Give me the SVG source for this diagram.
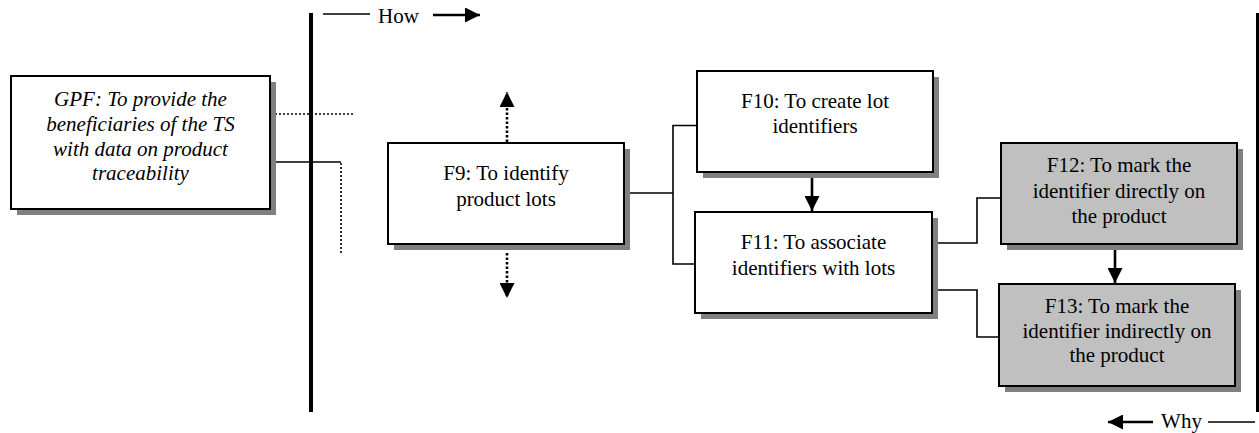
<svg xmlns="http://www.w3.org/2000/svg" width="1259" height="433" viewBox="0 0 1259 433">
<defs>
<style>
.t{font-family:"Liberation Serif","Times New Roman",serif;font-size:21px;fill:#000;text-anchor:middle}
.it{font-style:italic}
.box{fill:#fff;stroke:#000;stroke-width:2}
.gbox{fill:#c0c0c0;stroke:#000;stroke-width:2}
.sh{fill:#808080}
.ln{fill:none;stroke:#000;stroke-width:1.6}
.dot{fill:none;stroke:#000;stroke-width:1.6;stroke-dasharray:2,2}
.dotb{fill:none;stroke:#000;stroke-width:2.6;stroke-dasharray:2.5,2}
.ar{fill:none;stroke:#000;stroke-width:2.6}
</style>
<marker id="ah" markerUnits="userSpaceOnUse" markerWidth="15" markerHeight="15" refX="15" refY="7.5" orient="auto" viewBox="0 0 15 15">
<path d="M0,0 L15,7.5 L0,15 Z" fill="#000" stroke="none"/>
</marker>
</defs>
<rect width="1259" height="433" fill="#fff"/>

<g id="connectors">
<line x1="311" y1="13" x2="311" y2="412" stroke="#000" stroke-width="4"/>
<line x1="1257.5" y1="13" x2="1257.5" y2="412" stroke="#000" stroke-width="3"/>
<line class="ln" x1="323" y1="14" x2="370" y2="14"/>
<line class="ar" x1="433" y1="15" x2="480" y2="15" marker-end="url(#ah)"/>
<line class="ar" x1="1153" y1="422" x2="1108" y2="422" marker-end="url(#ah)"/>
<line class="ln" x1="1208" y1="422" x2="1255" y2="422"/>
<line class="dot" x1="271" y1="114" x2="353" y2="114"/>
<polyline class="ln" points="271,162 341,162"/>
<line class="dot" x1="341" y1="163" x2="341" y2="255"/>
<line class="dotb" x1="507" y1="142" x2="507" y2="92" marker-end="url(#ah)"/>
<line class="dotb" x1="507" y1="253" x2="507" y2="298" marker-end="url(#ah)"/>
<line class="ln" x1="627" y1="193" x2="673" y2="193"/>
<polyline class="ln" points="697,125.5 673,125.5 673,264 695,264"/>
<line class="ar" x1="812" y1="173" x2="812" y2="211" marker-end="url(#ah)"/>
<polyline class="ln" points="932,243 977,243 977,198 1001,198"/>
<polyline class="ln" points="932,290 977,290 977,337 999,337"/>
<line class="ar" x1="1115" y1="245" x2="1115" y2="283" marker-end="url(#ah)"/>
</g>

<g id="gpf">
<rect class="sh" x="17" y="82" width="259" height="133"/>
<rect class="box" x="11" y="76" width="259" height="133"/>
<text class="t it" x="140.5" y="106">GPF: To provide the</text>
<text class="t it" x="140.5" y="131">beneficiaries of the TS</text>
<text class="t it" x="140.5" y="155.5">with data on product</text>
<text class="t it" x="140.5" y="180">traceability</text>
</g>

<g id="f9">
<rect class="sh" x="394" y="149" width="236" height="101"/>
<rect class="box" x="388" y="143" width="236" height="101"/>
<text class="t" x="506" y="180">F9: To identify</text>
<text class="t" x="506" y="206">product lots</text>
</g>

<g id="f10">
<rect class="sh" x="703" y="77" width="236" height="101"/>
<rect class="box" x="697" y="71" width="236" height="101"/>
<text class="t" x="815" y="108">F10: To create lot</text>
<text class="t" x="815" y="133">identifiers</text>
</g>

<g id="f11">
<rect class="sh" x="701" y="218" width="237" height="101"/>
<rect class="box" x="695" y="212" width="237" height="101"/>
<text class="t" x="813.5" y="249">F11: To associate</text>
<text class="t" x="813.5" y="274.5">identifiers with lots</text>
</g>

<g id="f12">
<rect class="sh" x="1007" y="149" width="236" height="101"/>
<rect class="gbox" x="1001" y="143" width="236" height="101"/>
<text class="t" x="1119" y="172">F12: To mark the</text>
<text class="t" x="1119" y="197.5">identifier directly on</text>
<text class="t" x="1119" y="223">the product</text>
</g>

<g id="f13">
<rect class="sh" x="1005" y="290" width="236" height="102"/>
<rect class="gbox" x="999" y="284" width="236" height="102"/>
<text class="t" x="1117" y="313">F13: To mark the</text>
<text class="t" x="1117" y="337.5">identifier indirectly on</text>
<text class="t" x="1117" y="362">the product</text>
</g>

<g id="labels">
<text class="t" x="398.5" y="23">How</text>
<text class="t" x="1181.5" y="428">Why</text>
</g>
</svg>
